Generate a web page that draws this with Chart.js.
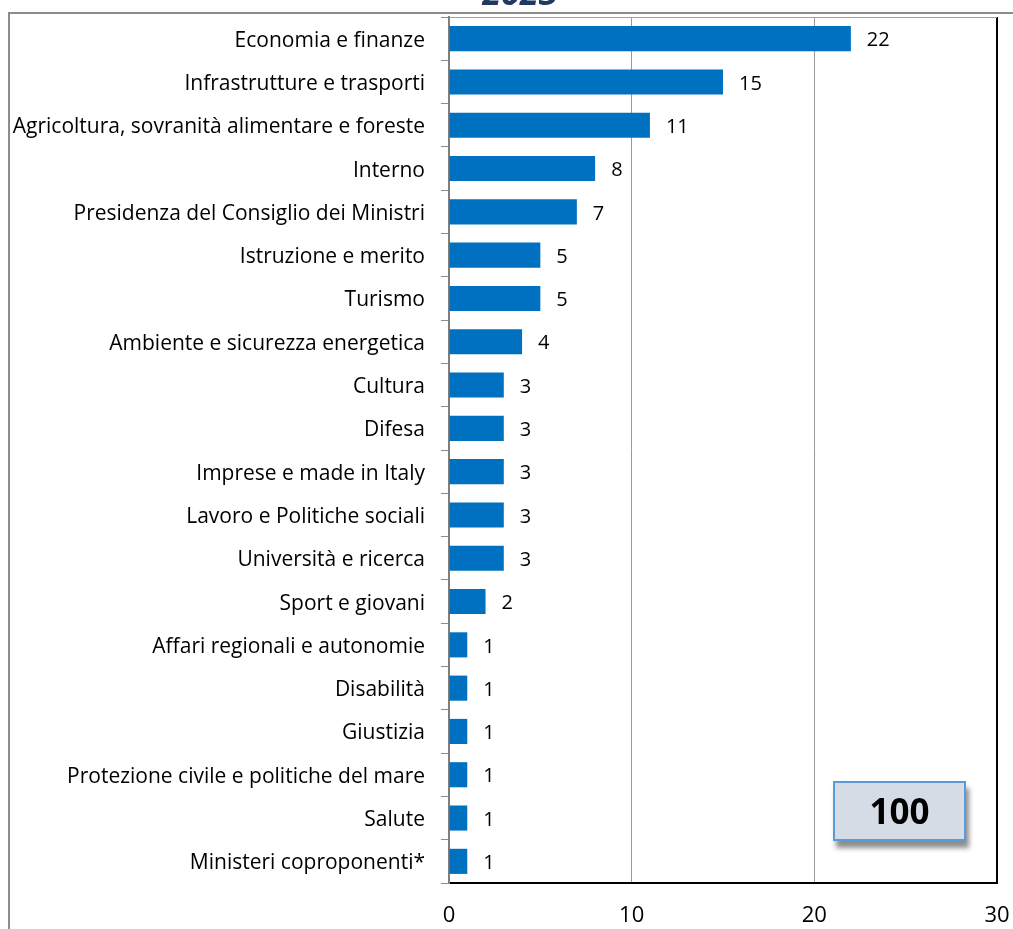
<!DOCTYPE html>
<html>
<head>
<meta charset="utf-8">
<title>Ministeri proponenti 2023</title>
<script src="https://cdn.jsdelivr.net/npm/chart.js@4"></script>
<style>
  html, body { margin: 0; padding: 0; background: #fff; overflow: hidden; }
  #wrap { position: relative; width: 1013px; height: 929px; }
  #frame { position: absolute; left: 8px; top: 12px; width: 1100px; height: 1000px;
           border: 2px solid #8c8c8c; box-sizing: border-box; }
  #chart { position: absolute; left: 0; top: 0; }
  #total { position: absolute; left: 833px; top: 781px; width: 133px; height: 60px;
           background: #d6dce5; border: 2px solid #5b9bd5; box-sizing: border-box;
           font: bold 35px "Open Sans", sans-serif; color: #000; text-align: center; line-height: 56px;
           box-shadow: 3px 7px 5px rgba(0,0,0,0.45); }
</style>
</head>
<body>
<div id="wrap">
  <div id="frame"></div>
  <canvas id="chart" width="1013" height="929"></canvas>
  <div id="total"></div>
</div>
<script>
// values
const categories = [
    'Economia e finanze',
    'Infrastrutture e trasporti',
    'Agricoltura, sovranità alimentare e foreste',
    'Interno',
    'Presidenza del Consiglio dei Ministri',
    'Istruzione e merito',
    'Turismo',
    'Ambiente e sicurezza energetica',
    'Cultura',
    'Difesa',
    'Imprese e made in Italy',
    'Lavoro e Politiche sociali',
    'Università e ricerca',
    'Sport e giovani',
    'Affari regionali e autonomie',
    'Disabilità',
    'Giustizia',
    'Protezione civile e politiche del mare',
    'Salute',
    'Ministeri coproponenti*'
];
const values = [22, 15, 11, 8, 7, 5, 5, 4, 3, 3, 3, 3, 3, 2, 1, 1, 1, 1, 1, 1];
const xTicks = [0, 10, 20, 30];
const titleText = '2023';
const totalText = '100';

const FONT = '"Open Sans", sans-serif';

document.getElementById('total').textContent = totalText;

// no extra room for the edge labels, the layout padding decides the plot box
function noPad(scale) {
    scale.paddingTop = 0;
    scale.paddingBottom = 0;
    scale.paddingLeft = 0;
    scale.paddingRight = 0;
}

// value labels to the right of each bar
const valueLabels = {
    id: 'valueLabels',
    afterDatasetsDraw(chart) {
        const ctx = chart.ctx;
        const meta = chart.getDatasetMeta(0);
        ctx.save();
        ctx.font = '20px ' + FONT;
        ctx.fillStyle = '#000';
        ctx.textAlign = 'left';
        ctx.textBaseline = 'middle';
        meta.data.forEach((bar, i) => {
            ctx.fillText(String(values[i]), bar.x + 16, bar.y + 2);
        });
        ctx.restore();
    }
};

// light top edge of the plot and the (cut off) title
const extras = {
    id: 'extras',
    afterDraw(chart) {
        const ctx = chart.ctx;
        const a = chart.chartArea;
        ctx.save();
        ctx.strokeStyle = '#a0a0a0';
        ctx.lineWidth = 1;
        ctx.beginPath();
        ctx.moveTo(a.left, a.top + 0.5);
        ctx.lineTo(a.right, a.top + 0.5);
        ctx.stroke();
        ctx.font = 'italic bold 34px ' + FONT;
        ctx.fillStyle = '#1f3864';
        ctx.textAlign = 'center';
        ctx.textBaseline = 'alphabetic';
        ctx.fillText(titleText, 520, 5);
        ctx.restore();
    }
};

new Chart(document.getElementById('chart').getContext('2d'), {
    type: 'bar',
    data: {
        labels: categories,
        datasets: [{
            data: values,
            backgroundColor: '#0070c0',
            barPercentage: 0.58,
            categoryPercentage: 1.0
        }]
    },
    options: {
        indexAxis: 'y',
        responsive: false,
        animation: false,
        layout: { padding: { top: 17, right: 16, left: 0, bottom: 0 } },
        plugins: {
            legend: { display: false },
            tooltip: { enabled: false }
        },
        scales: {
            x: {
                min: xTicks[0],
                max: xTicks[xTicks.length - 1],
                afterBuildTicks: scale => { scale.ticks = xTicks.map(v => ({ value: v })); },
                afterFit: scale => { scale.height = 46; noPad(scale); },
                ticks: { color: '#000', font: { family: FONT, size: 22 }, padding: 20 },
                grid: {
                    drawTicks: false,
                    color: c => c.tick && c.tick.value === 30 ? '#000' : '#999',
                    lineWidth: c => c.tick && c.tick.value === 30 ? 2 : 1
                },
                border: { color: '#000', width: 2 }
            },
            y: {
                afterFit: scale => { scale.width = 449; noPad(scale); },
                ticks: { color: '#000', font: { family: FONT, size: 21 }, padding: 16, labelOffset: 2 },
                grid: { drawOnChartArea: false, offset: true, tickLength: 8, color: '#8c8c8c' },
                border: { color: '#7f7f7f', width: 2 }
            }
        }
    },
    plugins: [valueLabels, extras]
});
</script>
</body>
</html>
